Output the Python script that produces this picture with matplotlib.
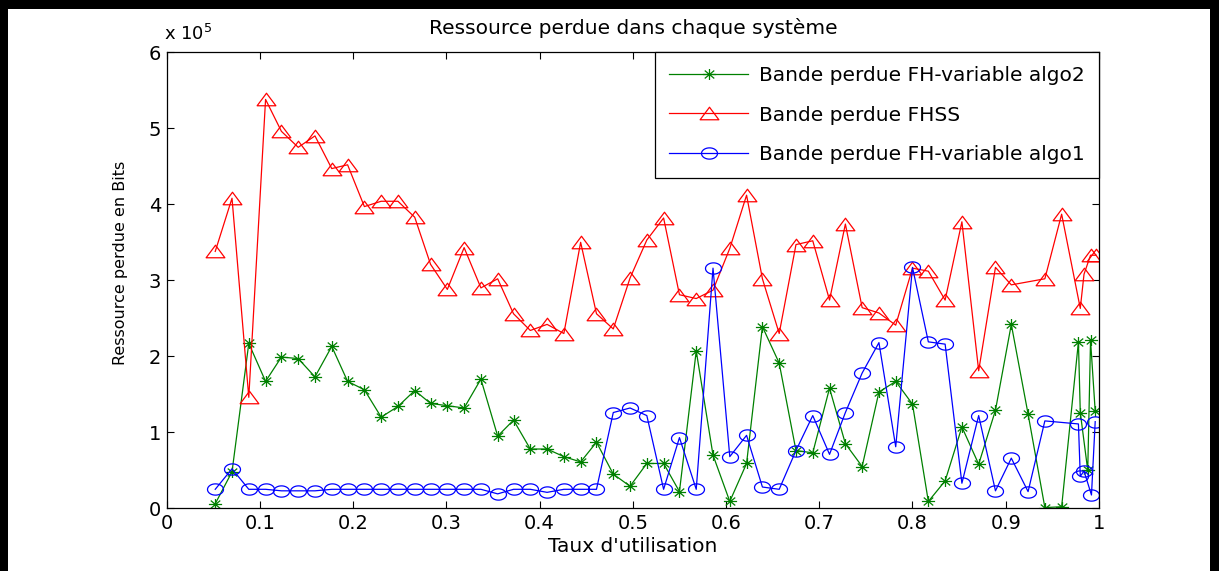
import numpy as np
import matplotlib
matplotlib.use("Agg")
import matplotlib.pyplot as plt
from matplotlib.path import Path
from matplotlib.patches import Rectangle
from matplotlib.ticker import FuncFormatter

plt.rcParams['font.family'] = ['DejaVu Sans']

# ---------------- data (y in units of 1e5 bits) ----------------
x_fhss = [0.052, 0.070, 0.088, 0.106, 0.123, 0.141, 0.159, 0.177, 0.194, 0.212,
          0.230, 0.248, 0.266, 0.283, 0.301, 0.319, 0.337, 0.355, 0.372, 0.390,
          0.408, 0.426, 0.444, 0.461, 0.479, 0.497, 0.515, 0.533, 0.550, 0.568,
          0.586, 0.604, 0.622, 0.639, 0.657, 0.675, 0.693, 0.711, 0.728, 0.746,
          0.764, 0.782, 0.800, 0.817, 0.835, 0.853, 0.871, 0.889, 0.906,
          0.942, 0.960, 0.980, 0.984, 0.991, 0.997]
y_fhss = [3.38, 4.08, 1.46, 5.38, 4.96, 4.75, 4.90, 4.47, 4.52, 3.97,
          4.04, 4.04, 3.83, 3.21, 2.88, 3.43, 2.90, 3.02, 2.56, 2.34,
          2.42, 2.30, 3.50, 2.56, 2.36, 3.03, 3.53, 3.82, 2.81, 2.76,
          2.87, 3.42, 4.12, 3.02, 2.30, 3.47, 3.52, 2.74, 3.74, 2.64,
          2.57, 2.41, 3.16, 3.12, 2.74, 3.77, 1.81, 3.17, 2.94,
          3.02, 3.87, 2.63, 3.08, 3.33, 3.33]

x_algo2 = [0.052, 0.070, 0.088, 0.106, 0.123, 0.141, 0.159, 0.177, 0.194, 0.212,
           0.230, 0.248, 0.266, 0.283, 0.301, 0.319, 0.337, 0.355, 0.372, 0.390,
           0.408, 0.426, 0.444, 0.461, 0.479, 0.497, 0.515, 0.533, 0.550, 0.568,
           0.586, 0.604, 0.622, 0.639, 0.657, 0.675, 0.693, 0.711, 0.728, 0.746,
           0.764, 0.782, 0.800, 0.817, 0.835, 0.853, 0.871, 0.889, 0.906, 0.924,
           0.942, 0.960, 0.978, 0.980, 0.988, 0.991, 0.996]
y_algo2 = [0.06, 0.48, 2.17, 1.67, 1.99, 1.97, 1.73, 2.13, 1.67, 1.56,
           1.20, 1.34, 1.55, 1.38, 1.35, 1.32, 1.70, 0.95, 1.16, 0.78,
           0.78, 0.68, 0.61, 0.87, 0.45, 0.29, 0.59, 0.59, 0.22, 2.07,
           0.70, 0.09, 0.59, 2.39, 1.91, 0.76, 0.73, 1.58, 0.85, 0.55,
           1.53, 1.67, 1.37, 0.09, 0.36, 1.07, 0.58, 1.29, 2.42, 1.24,
           0.01, 0.02, 2.19, 1.26, 0.50, 2.21, 1.28]

x_algo1 = [0.052, 0.070, 0.088, 0.106, 0.123, 0.141, 0.159, 0.177, 0.194, 0.212,
           0.230, 0.248, 0.266, 0.283, 0.301, 0.319, 0.337, 0.355, 0.372, 0.390,
           0.408, 0.426, 0.444, 0.461, 0.479, 0.497, 0.515, 0.533, 0.550, 0.568,
           0.586, 0.604, 0.622, 0.639, 0.657, 0.675, 0.693, 0.711, 0.728, 0.746,
           0.764, 0.782, 0.800, 0.817, 0.835, 0.853, 0.871, 0.889, 0.906, 0.924,
           0.942, 0.978, 0.980, 0.984, 0.992, 0.996]
y_algo1 = [0.25, 0.52, 0.25, 0.25, 0.23, 0.23, 0.23, 0.25, 0.25, 0.25,
           0.25, 0.25, 0.25, 0.25, 0.25, 0.25, 0.25, 0.19, 0.25, 0.25,
           0.21, 0.25, 0.25, 0.25, 1.26, 1.32, 1.22, 0.25, 0.93, 0.25,
           3.16, 0.68, 0.96, 0.28, 0.25, 0.76, 1.22, 0.71, 1.26, 1.78,
           2.18, 0.81, 3.17, 2.19, 2.16, 0.33, 1.22, 0.23, 0.66, 0.22,
           1.15, 1.11, 0.42, 0.49, 0.175, 1.14]

labels = ["Bande perdue FH-variable algo2", "Bande perdue FHSS",
          "Bande perdue FH-variable algo1"]
x_ticks = [0, 0.1, 0.2, 0.3, 0.4, 0.5, 0.6, 0.7, 0.8, 0.9, 1]
y_ticks = [0, 1, 2, 3, 4, 5, 6]

# ---------------- stretched markers (image is horizontally stretched) ----
SX = 1.42
t = np.linspace(0, 2 * np.pi, 60)
ellipse = Path(np.column_stack([SX * np.cos(t), np.sin(t)]), closed=True)
tri = Path([(-SX, -0.95), (SX, -0.95), (0, 0.95), (-SX, -0.95)], closed=True)
d = 0.72
star = Path([(-1.2, 0), (1.2, 0), (0, -1), (0, 1),
             (-1.2 * d, -d), (1.2 * d, d), (-1.2 * d, d), (1.2 * d, -d)],
            [Path.MOVETO, Path.LINETO] * 4)

fig = plt.figure(figsize=(12.19, 5.71), dpi=100)
ax = fig.add_axes([0.1368, 0.1098, 0.9015 - 0.1368, 0.9084 - 0.1098])

green = '#008000'
ax.plot(x_algo2, y_algo2, color=green, lw=0.9, marker=star, ms=9.5,
        mfc='none', mec=green, mew=0.9, label=labels[0])
ax.plot(x_fhss, y_fhss, color='#ff0000', lw=0.9, marker=tri, ms=13.5,
        mfc='none', mec='#ff0000', mew=0.9, label=labels[1])
ax.plot(x_algo1, y_algo1, color='#0000ff', lw=0.9, marker=ellipse, ms=11.5,
        mfc='none', mec='#0000ff', mew=0.9, label=labels[2])

ax.set_xlim(0, 1)
ax.set_ylim(0, 6)
ax.set_xticks(x_ticks)
ax.set_yticks(y_ticks)
ax.xaxis.set_major_formatter(FuncFormatter(lambda v, p: '%g' % v))
ax.yaxis.set_major_formatter(FuncFormatter(lambda v, p: '%g' % v))
ax.tick_params(direction='in', length=5, width=0.8, top=True, right=True,
               labelsize=14, pad=4, colors='black')
for s in ax.spines.values():
    s.set_linewidth(0.9)
    s.set_color('black')

ax.set_title("Ressource perdue dans chaque système", fontsize=14.5, pad=13)
ax.set_xlabel("Taux d'utilisation", fontsize=14.5, labelpad=3)
ax.set_ylabel("Ressource perdue en Bits", fontsize=11.5)
ax.yaxis.set_label_coords(-0.042, 0.538)
ax.annotate(r'x 10$^{5}$', xy=(0, 1), xycoords='axes fraction',
            xytext=(-2, 6), textcoords='offset points', ha='left', va='bottom',
            fontsize=13)

leg = ax.legend(loc='upper right', borderaxespad=0, fontsize=14.5,
                numpoints=1, handlelength=3.9, handletextpad=0.55,
                labelspacing=1.0, borderpad=0.7, fancybox=False,
                framealpha=1, edgecolor='black')
leg.get_frame().set_linewidth(0.9)

# black frame around the figure
for (x0, y0, w, h) in [(0, 0, 8 / 1219, 1), (1210 / 1219, 0, 9 / 1219, 1),
                       (0, 1 - 9 / 571, 1, 9 / 571)]:
    fig.patches.append(Rectangle((x0, y0), w, h, transform=fig.transFigure,
                                 facecolor='black', edgecolor='none'))

fig.savefig('out.png', dpi=100)
